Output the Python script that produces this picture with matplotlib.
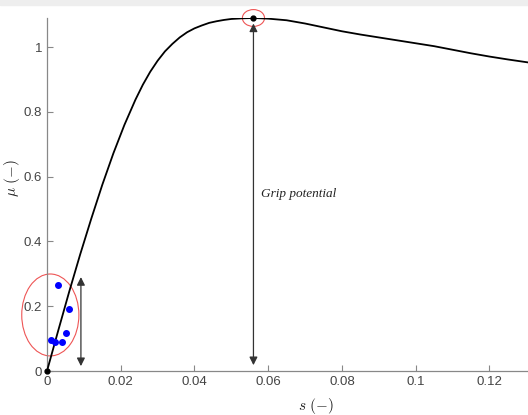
import matplotlib
matplotlib.use("Agg")
import matplotlib.pyplot as plt
from matplotlib.patches import Ellipse, Rectangle

plt.rcParams['mathtext.fontset'] = 'cm'

# friction curve
slip = [0, 0.003, 0.006, 0.009, 0.012, 0.015, 0.018, 0.021, 0.024, 0.026,
        0.028, 0.030, 0.032, 0.034, 0.036, 0.038, 0.040, 0.042, 0.044, 0.046,
        0.048, 0.050, 0.053, 0.056, 0.060, 0.065, 0.070, 0.075, 0.080, 0.085,
        0.090, 0.095, 0.100, 0.105, 0.110, 0.115, 0.120, 0.125, 0.131]
mu = [0, 0.123, 0.244, 0.360, 0.470, 0.575, 0.672, 0.760, 0.838, 0.884,
      0.924, 0.958, 0.987, 1.010, 1.030, 1.046, 1.058, 1.067, 1.075, 1.080,
      1.084, 1.087, 1.089, 1.090, 1.088, 1.083, 1.073, 1.061, 1.049, 1.039,
      1.030, 1.021, 1.012, 1.003, 0.992, 0.981, 0.971, 0.962, 0.952]

# measured points (blue)
meas_s = [0.0031, 0.0060, 0.0052, 0.0011, 0.0022, 0.0042]
meas_mu = [0.265, 0.190, 0.118, 0.097, 0.090, 0.089]

peak_s = 0.056
peak_mu = 1.090

xticks = [0, 0.02, 0.04, 0.06, 0.08, 0.1, 0.12]
xlabels = ['0', '0.02', '0.04', '0.06', '0.08', '0.1', '0.12']
yticks = [0, 0.2, 0.4, 0.6, 0.8, 1]
ylabels = ['0', '0.2', '0.4', '0.6', '0.8', '1']

fig = plt.figure(figsize=(5.28, 4.15), dpi=100)
ax = fig.add_axes([47/528, 44/415, 553/528, 353/415])

ax.plot(slip, mu, color='black', lw=1.3, zorder=3)
ax.plot(meas_s, meas_mu, 'o', color='blue', ms=4, zorder=4, clip_on=False)
ax.plot([0, peak_s], [0, peak_mu], 'o', color='black', ms=3.5, zorder=5, clip_on=False)

# ellipses
ax.add_patch(Ellipse((0.0009, 0.173), 0.0155, 0.253, fill=False,
                     edgecolor='#ee5555', lw=0.8, clip_on=False, zorder=2))
ax.add_patch(Ellipse((peak_s, peak_mu), 0.006, 0.052, fill=False,
                     edgecolor='#ee5555', lw=0.8, clip_on=False, zorder=2))

# arrows
arr = dict(arrowstyle='<|-|>', color='#333333', lw=0.9,
           mutation_scale=12, shrinkA=0, shrinkB=0)
ax.annotate('', xy=(0.0092, 0.29), xytext=(0.0092, 0.015), arrowprops=arr)
ax.annotate('', xy=(peak_s, 1.073), xytext=(peak_s, 0.018), arrowprops=arr)

ax.text(0.058, 0.548, 'Grip potential', family='Liberation Serif',
        style='italic', fontsize=9.5, va='center', ha='left', color='#222222')

ax.set_xlim(0, 0.15)
ax.set_ylim(0, 1.09)
ax.set_xticks(xticks)
ax.set_xticklabels(xlabels)
ax.set_yticks(yticks)
ax.set_yticklabels(ylabels)

for side in ['top', 'right']:
    ax.spines[side].set_visible(False)
for side in ['left', 'bottom']:
    ax.spines[side].set_color('#888888')
    ax.spines[side].set_linewidth(0.9)
ax.tick_params(direction='in', length=4, width=0.8, color='#888888',
               labelcolor='#444444', labelsize=9.5)
for lab in ax.get_xticklabels() + ax.get_yticklabels():
    lab.set_family('Liberation Sans')

ax.set_xlabel(r'$s\ (-)$', fontsize=11, color='#222222')
ax.xaxis.set_label_coords((316 - 47) / 553, -25 / 353)
ax.set_ylabel(r'$\mu\ (-)$', fontsize=11, color='#222222')
ax.yaxis.set_label_coords((22 - 47) / 553, (371 - 178) / 353)

# light band at the top of the screenshot
fig.patches.append(Rectangle((0, 1 - 5/415), 1, 5/415, transform=fig.transFigure,
                             color='#eeeeee', zorder=0))

fig.savefig('out.png', dpi=100)
